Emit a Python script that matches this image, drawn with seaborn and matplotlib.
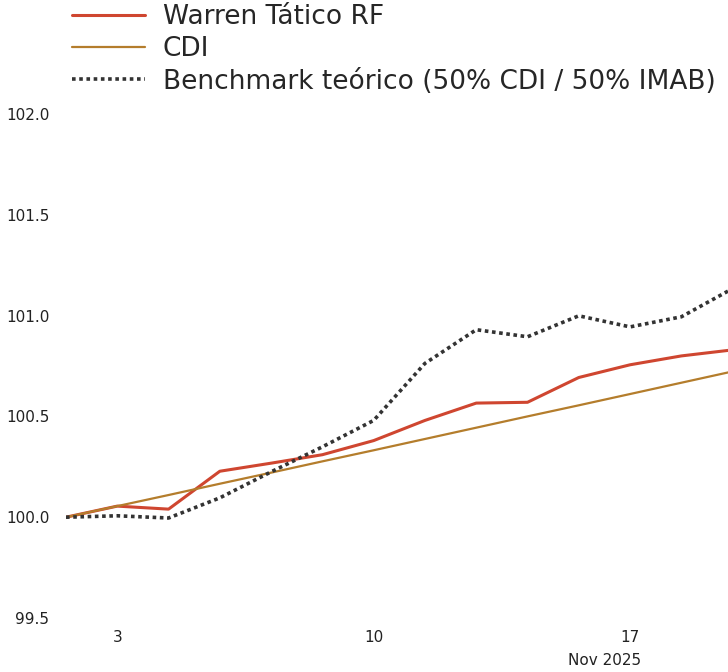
import pandas as pd
import matplotlib
matplotlib.use('Agg')
import matplotlib.pyplot as plt
import seaborn as sns

# business days (weekends skipped, like the original chart)
dates = ['2025-10-31', '2025-11-03', '2025-11-04', '2025-11-05', '2025-11-06',
         '2025-11-07', '2025-11-10', '2025-11-11', '2025-11-12', '2025-11-13',
         '2025-11-14', '2025-11-17', '2025-11-18', '2025-11-19']

warren = [100.00, 100.055, 100.04, 100.228, 100.268, 100.31, 100.38,
          100.48, 100.566, 100.57, 100.693, 100.756, 100.80, 100.83]
cdi = [100.00, 100.055, 100.11, 100.166, 100.221, 100.277, 100.332,
       100.388, 100.444, 100.50, 100.555, 100.611, 100.667, 100.723]
benchmark = [100.00, 100.007, 99.996, 100.096, 100.225, 100.349, 100.48,
             100.763, 100.93, 100.895, 100.999, 100.944, 100.994, 101.134]

series_names = ['Warren Tático RF', 'CDI', 'Benchmark teórico (50% CDI / 50% IMAB)']
colors = ['#CF4630', '#B47D2C', '#333333']

y_ticks = [99.5, 100.0, 100.5, 101.0, 101.5, 102.0]
x_tick_dates = ['2025-11-03', '2025-11-10', '2025-11-17']
x_tick_labels = ['3', '10', '17']

df = pd.DataFrame({'date': pd.to_datetime(dates)})
df['pos'] = range(len(df))
df[series_names[0]] = warren
df[series_names[1]] = cdi
df[series_names[2]] = benchmark

sns.set_theme(style='white')
plt.rcParams['font.family'] = ['DejaVu Sans']

fig = plt.figure(figsize=(7.28, 6.72), dpi=100)
ax = fig.add_axes([66 / 728, 1 - 618 / 672, 1 - 66 / 728, (618 - 114) / 672])

sns.lineplot(data=df, x='pos', y=series_names[0], ax=ax, color=colors[0],
             linewidth=2.2, label=series_names[0])
sns.lineplot(data=df, x='pos', y=series_names[1], ax=ax, color=colors[1],
             linewidth=1.6, label=series_names[1])
sns.lineplot(data=df, x='pos', y=series_names[2], ax=ax, color=colors[2],
             linewidth=2.6, linestyle=(0, (1, 1)), label=series_names[2])

ax.set_ylim(99.5, 102.0)
ax.set_xlim(0, 12.91)
ax.set_yticks(y_ticks)
ax.set_yticklabels([f'{v:.1f}' for v in y_ticks], fontsize=11, color='#222222')
tick_pos = [df.loc[df['date'] == pd.Timestamp(d), 'pos'].iloc[0] for d in x_tick_dates]
ax.set_xticks(tick_pos)
ax.set_xticklabels(x_tick_labels, fontsize=11, color='#222222')
ax.tick_params(axis='both', length=0)
ax.tick_params(axis='y', pad=12)
ax.tick_params(axis='x', pad=9)
ax.set_xlabel('')
ax.set_ylabel('')
ax.grid(False)
for s in ax.spines.values():
    s.set_visible(False)

ax.text(tick_pos[-1] - 0.5, -0.07, 'Nov 2025', transform=ax.get_xaxis_transform(),
        ha='center', va='top', fontsize=11, color='#222222')

ax.get_legend().remove()
handles, labels = ax.get_legend_handles_labels()
fig.legend(handles, labels, loc='upper left', bbox_to_anchor=(61.5 / 728, 1.010),
           frameon=False, fontsize=19, handlelength=2.75, handletextpad=0.68,
           labelspacing=0.24, borderaxespad=0.0)

fig.savefig('out.png', dpi=100)
